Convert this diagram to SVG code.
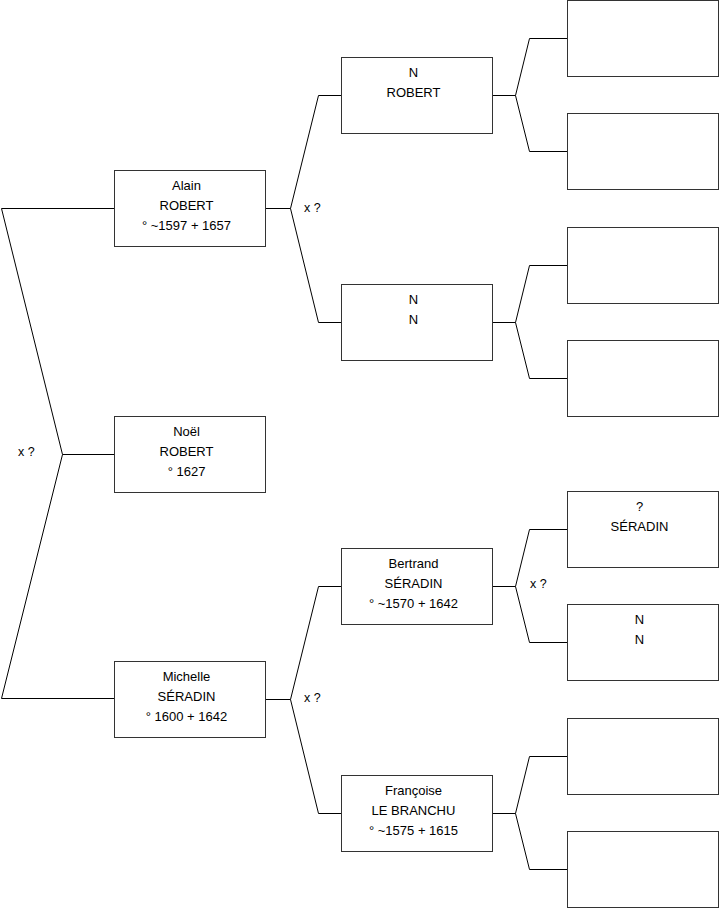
<svg xmlns="http://www.w3.org/2000/svg" width="719" height="908" viewBox="0 0 719 908">
<style>
.box{fill:#fff;stroke:#333;stroke-width:1}
.t{font-family:"Liberation Sans",Arial,sans-serif;font-size:13px;fill:#000;text-anchor:middle}
.l{font-family:"Liberation Sans",Arial,sans-serif;font-size:12.5px;fill:#000}
.c{fill:none;stroke:#000;stroke-width:1}
</style>
<rect width="719" height="908" fill="#fff"/>
<g id="connectors">
<path class="c" d="M114.5,208.5 H1.5 L62.5,454.5 L1.5,698.5 H114.5 M62.5,454.5 H114.5"/>
<path class="c" d="M265.5,208.5 H290.5 M341.5,95.5 H318.5 L290.5,208.5 L318.5,322.5 H341.5"/>
<path class="c" d="M265.5,699.5 H290.5 M341.5,586.5 H318.5 L290.5,699.5 L318.5,813.5 H341.5"/>
<path class="c" d="M492.5,95.5 H515.5 M567.5,38.5 H529.5 L515.5,95.5 L529.5,151.5 H567.5"/>
<path class="c" d="M492.5,322.5 H515.5 M567.5,265.5 H529.5 L515.5,322.5 L529.5,378.5 H567.5"/>
<path class="c" d="M492.5,586.5 H515.5 M567.5,529.5 H529.5 L515.5,586.5 L529.5,642.5 H567.5"/>
<path class="c" d="M492.5,813.5 H515.5 M567.5,756.5 H529.5 L515.5,813.5 L529.5,869.5 H567.5"/>
<text class="l" x="18" y="456">x ?</text>
<text class="l" x="304" y="212">x ?</text>
<text class="l" x="304" y="702">x ?</text>
<text class="l" x="530" y="588">x ?</text>
</g>
<g id="alain"><rect class="box" x="114.5" y="170.5" width="151" height="76"/>
<text class="t" x="186.5" y="190">Alain</text><text class="t" x="186.5" y="210">ROBERT</text><text class="t" x="186.5" y="230">° ~1597 + 1657</text></g>
<g id="noel"><rect class="box" x="114.5" y="416.5" width="151" height="76"/>
<text class="t" x="186.5" y="436">Noël</text><text class="t" x="186.5" y="456">ROBERT</text><text class="t" x="186.5" y="476">° 1627</text></g>
<g id="michelle"><rect class="box" x="114.5" y="661.5" width="151" height="76"/>
<text class="t" x="186.5" y="681">Michelle</text><text class="t" x="186.5" y="701">SÉRADIN</text><text class="t" x="186.5" y="721">° 1600 + 1642</text></g>
<g id="n-robert"><rect class="box" x="341.5" y="57.5" width="151" height="76"/>
<text class="t" x="413.5" y="77">N</text><text class="t" x="413.5" y="97">ROBERT</text></g>
<g id="n-n"><rect class="box" x="341.5" y="284.5" width="151" height="76"/>
<text class="t" x="413.5" y="304">N</text><text class="t" x="413.5" y="324">N</text></g>
<g id="bertrand"><rect class="box" x="341.5" y="548.5" width="151" height="76"/>
<text class="t" x="413.5" y="568">Bertrand</text><text class="t" x="413.5" y="588">SÉRADIN</text><text class="t" x="413.5" y="608">° ~1570 + 1642</text></g>
<g id="francoise"><rect class="box" x="341.5" y="775.5" width="151" height="76"/>
<text class="t" x="413.5" y="795">Françoise</text><text class="t" x="413.5" y="815">LE BRANCHU</text><text class="t" x="413.5" y="835">° ~1575 + 1615</text></g>
<g id="g1"><rect class="box" x="567.5" y="0.5" width="151" height="76"/></g>
<g id="g2"><rect class="box" x="567.5" y="113.5" width="151" height="76"/></g>
<g id="g3"><rect class="box" x="567.5" y="227.5" width="151" height="76"/></g>
<g id="g4"><rect class="box" x="567.5" y="340.5" width="151" height="76"/></g>
<g id="g5"><rect class="box" x="567.5" y="491.5" width="151" height="76"/>
<text class="t" x="639.5" y="511">?</text><text class="t" x="639.5" y="531">SÉRADIN</text></g>
<g id="g6"><rect class="box" x="567.5" y="604.5" width="151" height="76"/>
<text class="t" x="639.5" y="624">N</text><text class="t" x="639.5" y="644">N</text></g>
<g id="g7"><rect class="box" x="567.5" y="718.5" width="151" height="76"/></g>
<g id="g8"><rect class="box" x="567.5" y="831.5" width="151" height="76"/></g>
</svg>
